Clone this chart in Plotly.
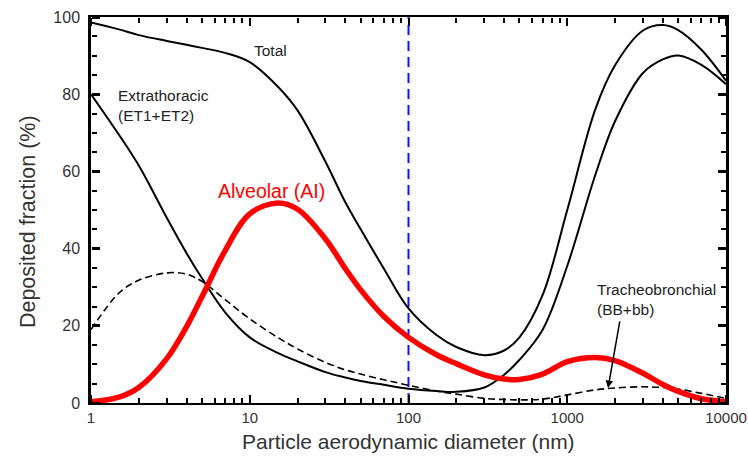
import plotly.graph_objects as go

# ---- data ----
grid_x = [1, 1.5, 2, 3, 4, 5, 7, 10, 15, 20, 30, 40, 50, 70, 100, 150, 200, 300, 400, 500, 700, 1000, 1500, 2000, 3000, 4000, 5000, 7000, 10000]

total_y = [98.6, 96.8, 95.3, 93.8, 92.8, 92.0, 90.7, 88.3, 82.0, 75.8, 62.5, 52.0, 45.0, 34.8, 24.5, 17.6, 14.5, 12.4, 13.6, 17.0, 28.0, 50.0, 76.0, 87.5, 96.5, 97.9, 96.6, 91.5, 83.5]
et_y = [80.0, 69.5, 61.5, 48.0, 38.8, 32.3, 23.5, 17.0, 13.0, 10.8, 8.0, 6.6, 5.7, 4.7, 3.7, 3.1, 2.9, 4.0, 7.3, 11.2, 19.0, 35.5, 59.0, 73.0, 85.5, 89.0, 90.0, 87.6, 82.6]
ai_y = [0.3, 1.5, 4.0, 11.5, 19.8, 27.5, 39.5, 49.0, 51.8, 50.2, 42.5, 34.8, 29.3, 22.4, 17.0, 12.5, 10.2, 7.3, 6.2, 6.1, 7.5, 10.7, 11.8, 11.0, 7.7, 4.8, 3.0, 1.1, 0.3]
tb_y = [19.0, 28.5, 31.8, 33.7, 33.4, 31.5, 26.8, 21.8, 17.0, 14.0, 10.5, 8.6, 7.5, 6.0, 4.6, 3.1, 2.3, 1.2, 0.9, 0.8, 1.0, 2.1, 3.4, 3.9, 4.2, 4.0, 3.6, 2.5, 1.2]

cutoff_x = [100, 100]
cutoff_y = [0, 100]

x_tickvals = [1, 10, 100, 1000, 10000]
x_ticktext = ["1", "10", "100", "1000", "10000"]
x_minor = [m * d for d in [1, 10, 100, 1000] for m in range(2, 10)]
y_tickvals = [0, 20, 40, 60, 80, 100]
y_minor = [v for v in range(5, 100, 5) if v % 20 != 0]

FONT = "Liberation Sans, Arial, sans-serif"
TXT = "#333333"

fig = go.Figure()
fig.add_trace(go.Scatter(x=cutoff_x, y=cutoff_y, mode="lines",
                         line=dict(color="#1010ff", width=2, dash="10px,6px"), hoverinfo="skip"))
fig.add_trace(go.Scatter(x=grid_x, y=tb_y, mode="lines",
                         line=dict(color="black", width=1.6, dash="7px,4px", shape="spline", smoothing=1)))
fig.add_trace(go.Scatter(x=grid_x, y=et_y, mode="lines",
                         line=dict(color="black", width=2, shape="spline", smoothing=1)))
fig.add_trace(go.Scatter(x=grid_x, y=total_y, mode="lines",
                         line=dict(color="black", width=2, shape="spline", smoothing=1)))
fig.add_trace(go.Scatter(x=grid_x, y=ai_y, mode="lines",
                         line=dict(color="#ff0000", width=5.5, shape="spline", smoothing=1)))
# empty traces so that the tick-only overlay axes are drawn
fig.add_trace(go.Scatter(x=[], y=[], xaxis="x2", yaxis="y2", hoverinfo="skip"))
fig.add_trace(go.Scatter(x=[], y=[], xaxis="x3", yaxis="y3", hoverinfo="skip"))

ann_font = dict(family=FONT, size=15.5, color="#222222")
fig.add_annotation(x=1.13, y=91.4, xref="x", yref="y", text="Total", showarrow=False, font=ann_font)
fig.add_annotation(x=0.157, y=77.1, xref="x", yref="y", text="Extrathoracic<br>(ET1+ET2)",
                   showarrow=False, font=ann_font, xanchor="left", align="left")
fig.add_annotation(x=1.137, y=54.8, xref="x", yref="y", text="Alveolar (AI)", showarrow=False,
                   font=dict(family=FONT, size=19.5, color="#ff0000"))
fig.add_annotation(x=3.175, y=26.8, xref="x", yref="y", text="Tracheobronchial<br>(BB+bb)",
                   showarrow=False, font=ann_font, xanchor="left", align="left")
fig.add_annotation(x=3.257, y=3.9, xref="x", yref="y", text="", showarrow=True,
                   ax=12, ay=-68, arrowhead=2, arrowsize=1, arrowwidth=1.5, arrowcolor="black")
# axis titles
fig.add_annotation(x=0.5, y=-0.099, xref="paper", yref="paper", text="Particle aerodynamic diameter (nm)",
                   showarrow=False, xanchor="center", yanchor="middle",
                   font=dict(family=FONT, size=21, color=TXT))
fig.add_annotation(x=-0.099, y=0.469, xref="paper", yref="paper", text="Deposited fraction (%)",
                   showarrow=False, xanchor="center", yanchor="middle", textangle=-90,
                   font=dict(family=FONT, size=21.5, color=TXT))

common = dict(showgrid=False, zeroline=False, automargin=False)
xtick_axis = dict(type="log", range=[0, 4], tickmode="array", tickvals=x_tickvals,
                  ticks="outside", ticklen=8, tickwidth=2, tickcolor="black",
                  minor=dict(tickmode="array", tickvals=x_minor, ticks="outside", ticklen=5,
                             tickwidth=1.5, tickcolor="black", showgrid=False),
                  showticklabels=False, showline=False, overlaying="x", anchor="free", **common)
ytick_axis = dict(range=[0, 100], tickmode="array", tickvals=y_tickvals,
                  ticks="outside", ticklen=8, tickwidth=2.5, tickcolor="black",
                  minor=dict(tickmode="array", tickvals=y_minor, ticks="outside", ticklen=5,
                             tickwidth=1.5, tickcolor="black", showgrid=False),
                  showticklabels=False, showline=False, overlaying="y", anchor="free", **common)

fig.update_layout(
    template="none",
    width=748, height=460,
    margin=dict(l=91, r=22, t=17, b=57),
    paper_bgcolor="white", plot_bgcolor="white",
    showlegend=False,
    font=dict(family=FONT, size=16, color=TXT),
    xaxis=dict(type="log", range=[0, 4], tickmode="array", tickvals=x_tickvals, ticktext=x_ticktext,
               ticks="", showline=True, linewidth=2, linecolor="black", mirror=True,
               tickfont=dict(size=15, color=TXT), ticklabelstandoff=0, **common),
    yaxis=dict(range=[0, 100], tickmode="array", tickvals=y_tickvals,
               ticks="", showline=True, linewidth=2.5, linecolor="black", mirror=True,
               tickfont=dict(size=16, color=TXT), ticklabelstandoff=5, **common),
    xaxis2=dict(side="top", position=0, **xtick_axis),
    xaxis3=dict(side="bottom", position=1, **xtick_axis),
    yaxis2=dict(side="right", position=0, **ytick_axis),
    yaxis3=dict(side="left", position=1, **ytick_axis),
)

fig.write_html("out.html")
